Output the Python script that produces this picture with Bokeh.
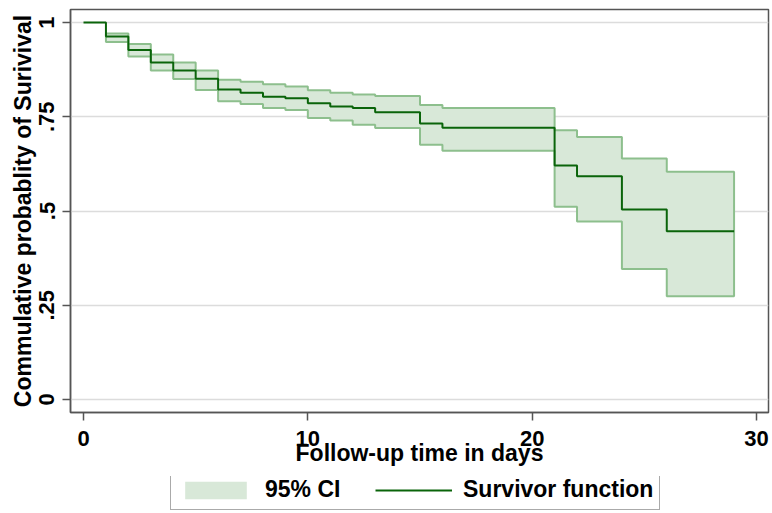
from bokeh.plotting import figure
from bokeh.models import Legend, LegendItem, FixedTicker
from bokeh.layouts import column
from bokeh.embed import file_html
from bokeh.resources import INLINE

# Kaplan-Meier data
times = [0, 1, 2, 3, 4, 5, 6, 7, 8, 9, 10, 11, 12, 13, 15, 16, 21, 22, 24, 26]
surv = [1.0, 0.963, 0.927, 0.894, 0.873, 0.851, 0.822, 0.814, 0.803, 0.799,
        0.786, 0.777, 0.773, 0.762, 0.732, 0.721, 0.621, 0.592, 0.504, 0.446]
ci_upper = [None, 0.971, 0.943, 0.915, 0.894, 0.873, 0.848, 0.843, 0.836, 0.830,
            0.820, 0.814, 0.809, 0.805, 0.781, 0.773, 0.714, 0.696, 0.639, 0.604]
ci_lower = [None, 0.948, 0.910, 0.873, 0.850, 0.821, 0.791, 0.784, 0.773, 0.768,
            0.747, 0.740, 0.729, 0.720, 0.676, 0.660, 0.511, 0.472, 0.346, 0.274]
end_time = 29

x_ticks = [0, 10, 20, 30]
y_ticks = [0, 0.25, 0.5, 0.75, 1]
y_tick_labels = ["0", ".25", ".5", ".75", "1"]
legend_labels = ["95% CI", "Survivor function"]

FONT = "Liberation Sans"
FILL = "#d8e8d8"
EDGE = "#8dbf8d"
LINE = "#0a640a"
FRAME = "#555555"

p = figure(width=772, height=476, output_backend="svg", toolbar_location=None,
           x_range=(-0.58, 30.535), y_range=(-0.0345, 1.0345),
           min_border_left=70, min_border_right=4, min_border_top=9,
           min_border_bottom=64)
p.background_fill_color = "white"
p.border_fill_color = "white"
p.outline_line_color = FRAME
p.outline_line_width = 1.5

# CI band as a step polygon
ct = times[1:] + [end_time]
cu = ci_upper[1:] + [ci_upper[-1]]
cl = ci_lower[1:] + [ci_lower[-1]]
ux, uy, lx, ly = [], [], [], []
for i in range(len(ct) - 1):
    ux += [ct[i], ct[i + 1]]
    uy += [cu[i], cu[i]]
    lx += [ct[i], ct[i + 1]]
    ly += [cl[i], cl[i]]
px = ux + lx[::-1]
py = uy + ly[::-1]
p.patch(px, py, fill_color=FILL, line_color=None)
p.patch(px, py, fill_color=None, line_color=EDGE, line_width=2)

st = times + [end_time]
sv = surv + [surv[-1]]
p.step(st, sv, mode="after", line_color=LINE, line_width=2)

# axes
p.xgrid.visible = False
p.ygrid.grid_line_color = "#dcdcdc"
p.ygrid.grid_line_width = 1.5
p.ygrid.ticker = FixedTicker(ticks=y_ticks)

p.xaxis.ticker = FixedTicker(ticks=x_ticks)
p.yaxis.ticker = FixedTicker(ticks=y_ticks)
p.yaxis.major_label_overrides = {t: l for t, l in zip(y_ticks, y_tick_labels)}
p.yaxis.major_label_orientation = "vertical"

for ax in (p.xaxis[0], p.yaxis[0]):
    ax.axis_line_color = FRAME
    ax.axis_line_width = 1.5
    ax.major_tick_line_color = FRAME
    ax.major_tick_line_width = 1.5
    ax.major_tick_out = 8
    ax.major_tick_in = 0
    ax.minor_tick_out = 0
    ax.minor_tick_in = 0
    ax.major_label_text_font = FONT
    ax.major_label_text_font_style = "bold"
    ax.major_label_text_font_size = "22px"
    ax.major_label_text_color = "black"
    ax.axis_label_text_font = FONT
    ax.axis_label_text_font_style = "bold"
    ax.axis_label_text_font_size = "23px"
    ax.axis_label_text_color = "black"

p.xaxis.axis_label = "Follow-up time in days"
p.yaxis.axis_label = "Commulative probablity of Surivival"
p.xaxis.major_label_standoff = 10
p.xaxis.axis_label_standoff = -9
p.yaxis.major_label_standoff = 8
p.yaxis.axis_label_standoff = 1

# legend strip below the chart; its swatch renderers reuse the data but lie
# outside this strip's (empty) view so only the legend is seen
q = figure(width=772, height=37, output_backend="svg", toolbar_location=None,
           x_range=(-3, -2), y_range=(-3, -2), min_border=0)
q.axis.visible = False
q.grid.visible = False
q.outline_line_color = None
q.background_fill_color = "white"
q.border_fill_color = "white"
sw_band = q.patch(px, py, fill_color=FILL, line_color=None)
sw_line = q.step(st, sv, mode="after", line_color=LINE, line_width=2)

legend = Legend(items=[LegendItem(label=legend_labels[0], renderers=[sw_band]),
                       LegendItem(label=legend_labels[1], renderers=[sw_line])],
                orientation="horizontal", location=(100, 3),
                glyph_width=77, glyph_height=22, label_standoff=11,
                label_width=110, spacing=0, padding=6, margin=0,
                label_text_font=FONT, label_text_font_style="bold",
                label_text_font_size="23px", label_text_color="black",
                border_line_color=FRAME, border_line_width=1.5,
                background_fill_color="white", background_fill_alpha=1)
q.add_layout(legend, "center")

open("out.html", "w").write(file_html(column(p, q), INLINE))
